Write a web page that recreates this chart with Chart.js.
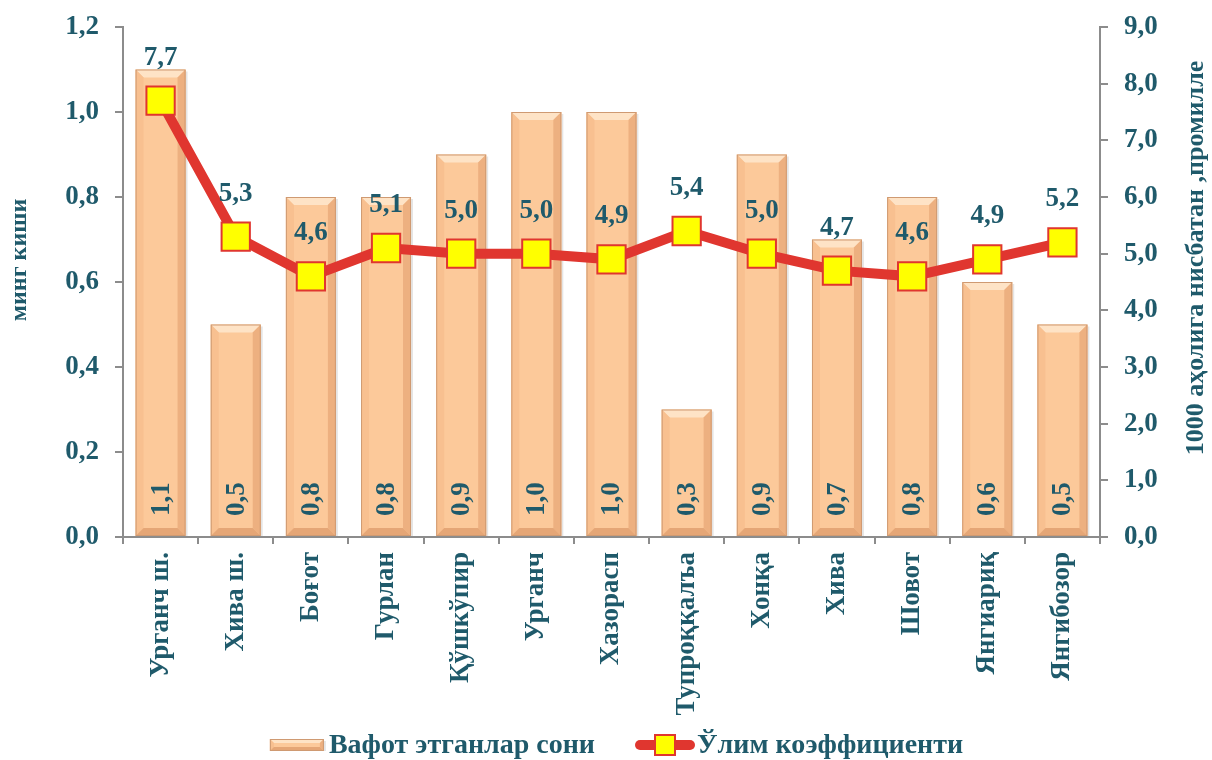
<!DOCTYPE html>
<html>
<head>
<meta charset="utf-8">
<script src="https://cdn.jsdelivr.net/npm/chart.js@4.4.1/dist/chart.umd.min.js"></script>
<style>
  html, body { margin: 0; padding: 0; background: #fff; }
  #wrap { width: 1212px; height: 760px; }
</style>
</head>
<body>
<div id="wrap"><canvas id="chart"></canvas></div>
<script>
// ── Data ─────────────────────────────────────────────────────────
const districts = ["Урганч ш.", "Хива ш.", "Боғот", "Гурлан", "Қўшкўпир", "Урганч", "Хазорасп",
  "Тупроққалъа", "Хонқа", "Хива", "Шовот", "Янгиариқ", "Янгибозор"];
const deaths = [1.1, 0.5, 0.8, 0.8, 0.9, 1.0, 1.0, 0.3, 0.9, 0.7, 0.8, 0.6, 0.5];
const mortality = [7.7, 5.3, 4.6, 5.1, 5.0, 5.0, 4.9, 5.4, 5.0, 4.7, 4.6, 4.9, 5.2];
const legendTexts = ["Вафот этганлар сони", "Ўлим коэффициенти"];
const axisTitles = ["минг киши", "1000 аҳолига нисбатан ,промилле"];

// ── Style ────────────────────────────────────────────────────────
const TEXT = "#1F5A6B";
const AXIS = "#8C8C8C";
const RED = "#E0362F";
const FONT = "'Liberation Serif', 'Times New Roman', serif";
const fmt = v => Number(v).toFixed(1).replace(".", ",");

// bevel helper for bars and the legend box
function drawBevel(ctx, x0, y0, w, h, e) {
  ctx.save();
  // soft shadow on the right
  ctx.fillStyle = "rgba(0,0,0,0.10)";
  ctx.fillRect(x0 + w, y0 + 2, 2, h - 2);
  ctx.fillStyle = "#FCC99A";
  ctx.fillRect(x0, y0, w, h);
  // top edge (light)
  ctx.fillStyle = "#FEE3C6";
  ctx.beginPath();
  ctx.moveTo(x0, y0); ctx.lineTo(x0 + w, y0); ctx.lineTo(x0 + w - e, y0 + e); ctx.lineTo(x0 + e, y0 + e);
  ctx.closePath(); ctx.fill();
  // left edge
  ctx.fillStyle = "#F8C090";
  ctx.beginPath();
  ctx.moveTo(x0, y0); ctx.lineTo(x0 + e, y0 + e); ctx.lineTo(x0 + e, y0 + h - e); ctx.lineTo(x0, y0 + h);
  ctx.closePath(); ctx.fill();
  // right edge
  ctx.fillStyle = "#EDB080";
  ctx.beginPath();
  ctx.moveTo(x0 + w, y0); ctx.lineTo(x0 + w - e, y0 + e); ctx.lineTo(x0 + w - e, y0 + h - e); ctx.lineTo(x0 + w, y0 + h);
  ctx.closePath(); ctx.fill();
  // bottom edge
  ctx.fillStyle = "#E5A676";
  ctx.beginPath();
  ctx.moveTo(x0, y0 + h); ctx.lineTo(x0 + e, y0 + h - e); ctx.lineTo(x0 + w - e, y0 + h - e); ctx.lineTo(x0 + w, y0 + h);
  ctx.closePath(); ctx.fill();
  ctx.strokeStyle = "#CF9A72";
  ctx.lineWidth = 1;
  ctx.strokeRect(x0 + 0.5, y0 + 0.5, w - 1, h - 1);
  ctx.restore();
}

// ── Plugins ──────────────────────────────────────────────────────
const barBevel = {
  id: "barBevel",
  afterDatasetDraw(chart, args) {
    if (args.index !== 0) return;
    const ctx = chart.ctx;
    args.meta.data.forEach((bar, i) => {
      const w = bar.width, x0 = bar.x - w / 2;
      drawBevel(ctx, x0, bar.y, w, bar.base - bar.y, 8);
      // value label, rotated, near the bottom of the bar
      ctx.save();
      ctx.translate(bar.x, bar.base - 37);
      ctx.rotate(-Math.PI / 2);
      ctx.fillStyle = TEXT;
      ctx.font = "bold 27px " + FONT;
      ctx.textAlign = "center";
      ctx.textBaseline = "middle";
      ctx.fillText(fmt(deaths[i]), 0, 1);
      ctx.restore();
    });
  }
};

const overlay = {
  id: "overlay",
  afterDraw(chart) {
    const ctx = chart.ctx;
    const area = chart.chartArea;
    const meta = chart.getDatasetMeta(1);
    ctx.save();
    ctx.fillStyle = TEXT;

    // line value labels
    ctx.font = "bold 27px " + FONT;
    ctx.textAlign = "center";
    ctx.textBaseline = "middle";
    meta.data.forEach((pt, i) => {
      ctx.fillText(fmt(mortality[i]), pt.x, pt.y - 43);
    });

    // axis titles, both reading bottom to top
    ctx.save();
    ctx.translate(20, 260);
    ctx.rotate(-Math.PI / 2);
    ctx.font = "bold 24px " + FONT;
    ctx.fillText(axisTitles[0], 0, 0);
    ctx.restore();
    ctx.save();
    ctx.translate(1196, 258);
    ctx.rotate(-Math.PI / 2);
    ctx.font = "bold 26px " + FONT;
    ctx.fillText(axisTitles[1], 0, 0);
    ctx.restore();

    // legend
    ctx.font = "bold 28px " + FONT;
    ctx.textAlign = "left";
    const w0 = ctx.measureText(legendTexts[0]).width;
    const w1 = ctx.measureText(legendTexts[1]).width;
    const total = 54 + 5 + w0 + 40 + 60 + 2 + w1;
    let x = (area.left + area.right) / 2 + 5 - total / 2;
    const y = 745;
    drawBevel(ctx, x, y - 6, 54, 12, 4);
    x += 59;
    ctx.fillStyle = TEXT;
    ctx.fillText(legendTexts[0], x, y + 1);
    x += w0 + 40;
    ctx.strokeStyle = RED; ctx.lineWidth = 10; ctx.lineCap = "round";
    ctx.beginPath(); ctx.moveTo(x + 5, y); ctx.lineTo(x + 55, y); ctx.stroke();
    ctx.fillStyle = "#FFFF00"; ctx.fillRect(x + 20, y - 10, 20, 20);
    ctx.strokeStyle = RED; ctx.lineWidth = 2; ctx.strokeRect(x + 20, y - 10, 20, 20);
    x += 62;
    ctx.fillStyle = TEXT;
    ctx.fillText(legendTexts[1], x, y + 1);
    ctx.restore();
  }
};

// fix the vertical axes' box sizes so the plot area matches the picture
const fitY = w => s => { s.width = w; s.paddingTop = 0; s.paddingBottom = 0; };

// ── Chart ────────────────────────────────────────────────────────
new Chart(document.getElementById("chart"), {
  data: {
    labels: districts,
    datasets: [
      {
        type: "bar",
        label: legendTexts[0],
        data: deaths,
        yAxisID: "y",
        backgroundColor: "rgba(0,0,0,0)",
        borderWidth: 0,
        categoryPercentage: 1,
        barPercentage: 0.665,
        order: 2
      },
      {
        type: "line",
        label: legendTexts[1],
        data: mortality,
        yAxisID: "y1",
        borderColor: RED,
        borderWidth: 10,
        pointStyle: "rect",
        pointRadius: 20,
        pointBackgroundColor: "#FFFF00",
        pointBorderColor: RED,
        pointBorderWidth: 2,
        tension: 0,
        order: 1
      }
    ]
  },
  options: {
    responsive: true,
    maintainAspectRatio: false,
    animation: false,
    layout: { padding: { top: 27, left: 0, right: 0, bottom: 30 } },
    plugins: {
      tooltip: { enabled: false },
      legend: { display: false }
    },
    scales: {
      x: {
        offset: true,
        afterFit: s => { s.height = 193; s.paddingLeft = 0; s.paddingRight = 0; },
        grid: { display: true, drawOnChartArea: false, offset: true, color: AXIS, tickLength: 7, lineWidth: 2 },
        border: { color: AXIS, width: 2 },
        ticks: {
          color: TEXT,
          font: { family: FONT, size: 27, weight: "bold" },
          minRotation: 90, maxRotation: 90,
          autoSkip: false,
          padding: 8
        }
      },
      y: {
        position: "left",
        min: 0, max: 1.2,
        afterFit: fitY(123),
        grid: { display: true, drawOnChartArea: false, color: AXIS, tickLength: 8, lineWidth: 2 },
        border: { color: AXIS, width: 2 },
        ticks: {
          stepSize: 0.2,
          color: TEXT,
          font: { family: FONT, size: 27, weight: "bold" },
          padding: 16,
          callback: v => fmt(v)
        }
      },
      y1: {
        position: "right",
        min: 0, max: 9,
        afterFit: fitY(112),
        grid: { display: true, drawOnChartArea: false, color: AXIS, tickLength: 8, lineWidth: 2 },
        border: { color: AXIS, width: 2 },
        ticks: {
          stepSize: 1,
          color: TEXT,
          font: { family: FONT, size: 27, weight: "bold" },
          padding: 16,
          callback: v => fmt(v)
        }
      }
    }
  },
  plugins: [barBevel, overlay]
});
</script>
</body>
</html>
